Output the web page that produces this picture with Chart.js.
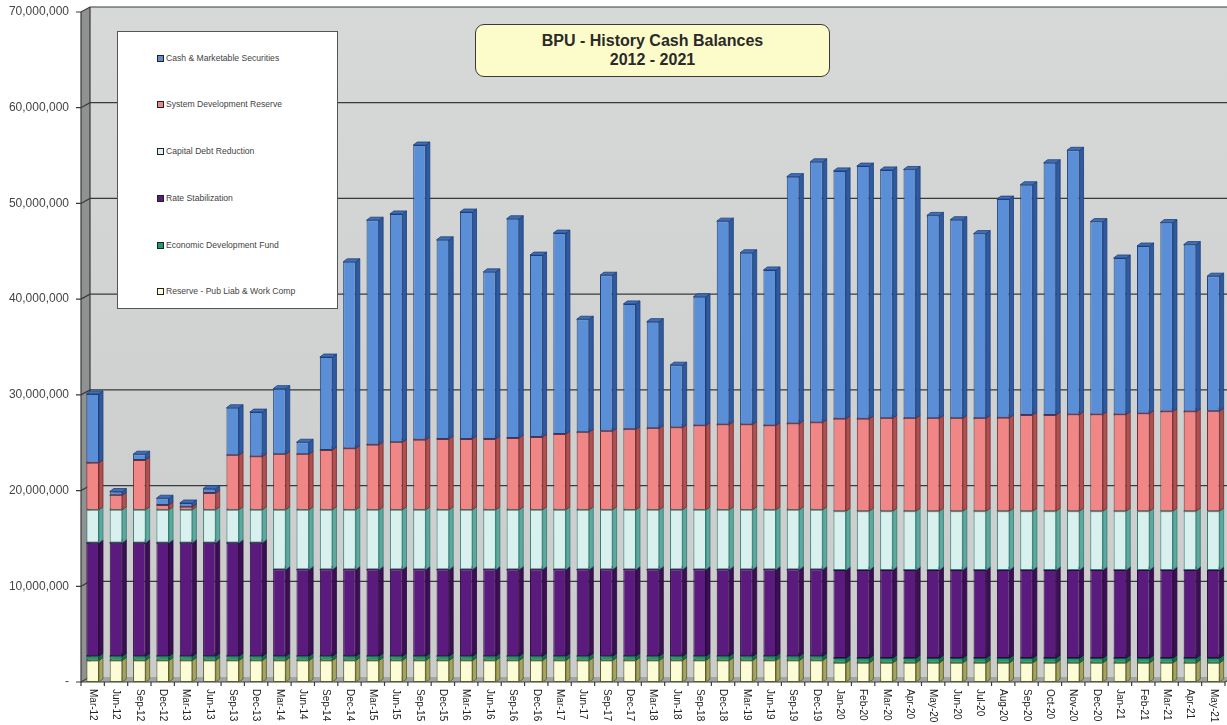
<!DOCTYPE html>
<html><head><meta charset="utf-8">
<script src="https://cdn.jsdelivr.net/npm/chart.js@4/dist/chart.umd.min.js"></script>
<style>
html,body{margin:0;padding:0;background:#fff;}
#wrap{position:relative;width:1227px;height:725px;overflow:hidden;}
#c{position:absolute;left:0;top:0;}
#title{position:absolute;left:475px;top:24px;width:355px;height:53px;background:#fbfcc9;border:1.5px solid #3a3a3a;border-radius:9px;box-sizing:border-box;font:bold 16px "Liberation Sans",Arial,sans-serif;color:#2a2a2a;text-align:center;line-height:19px;padding-top:6px;}
#legend{position:absolute;left:117px;top:31px;width:221px;height:278px;background:#fff;border:1px solid #555;box-sizing:border-box;}
.li{position:absolute;left:39px;font:8.6px "Liberation Sans",Arial,sans-serif;color:#444;white-space:nowrap;line-height:10px;}
.li span{display:inline-block;width:5px;height:5px;border:1px solid #222;margin-right:2px;vertical-align:-1px;}
</style></head>
<body><div id="wrap"><canvas id="c" width="1227" height="725"></canvas>
<div id="title">BPU - History Cash Balances<br>2012 - 2021</div>
<div id="legend"></div></div>
<script>
const categories = ["Mar-12","Jun-12","Sep-12","Dec-12","Mar-13","Jun-13","Sep-13","Dec-13","Mar-14","Jun-14","Sep-14","Dec-14","Mar-15","Jun-15","Sep-15","Dec-15","Mar-16","Jun-16","Sep-16","Dec-16","Mar-17","Jun-17","Sep-17","Dec-17","Mar-18","Jun-18","Sep-18","Dec-18","Mar-19","Jun-19","Sep-19","Dec-19","Jan-20","Feb-20","Mar-20","Apr-20","May-20","Jun-20","Jul-20","Aug-20","Sep-20","Oct-20","Nov-20","Dec-20","Jan-21","Feb-21","Mar-21","Apr-21","May-21"];

const reservePubLiab = [2250000,2250000,2250000,2250000,2250000,2250000,2250000,2250000,2250000,2250000,2250000,2250000,2250000,2250000,2250000,2250000,2250000,2250000,2250000,2250000,2250000,2250000,2250000,2250000,2250000,2250000,2250000,2250000,2250000,2250000,2250000,2250000,2000000,2000000,2000000,2000000,2000000,2000000,2000000,2000000,2000000,2000000,2000000,2000000,2000000,2000000,2000000,2000000,2000000];
const economicDevFund = [450000,450000,450000,450000,450000,450000,450000,450000,450000,450000,450000,450000,450000,450000,450000,450000,450000,450000,450000,450000,450000,450000,450000,450000,450000,450000,450000,450000,450000,450000,450000,450000,500000,500000,500000,500000,500000,500000,500000,500000,500000,500000,500000,500000,500000,500000,500000,500000,500000];
const rateStabilization = [11850000,11850000,11850000,11850000,11850000,11850000,11850000,11850000,9050000,9050000,9050000,9050000,9050000,9050000,9050000,9050000,9050000,9050000,9050000,9050000,9050000,9050000,9050000,9050000,9050000,9050000,9050000,9050000,9050000,9050000,9050000,9050000,9200000,9200000,9200000,9200000,9200000,9200000,9200000,9200000,9200000,9200000,9200000,9200000,9200000,9200000,9200000,9200000,9200000];
const capitalDebtReduction = [3450000,3450000,3450000,3450000,3450000,3450000,3450000,3450000,6250000,6250000,6250000,6250000,6250000,6250000,6250000,6250000,6250000,6250000,6250000,6250000,6250000,6250000,6250000,6250000,6250000,6250000,6250000,6250000,6250000,6250000,6250000,6250000,6150000,6150000,6150000,6150000,6150000,6150000,6150000,6150000,6150000,6150000,6150000,6150000,6150000,6150000,6150000,6150000,6150000];
const systemDevReserve = [4900000,1500000,5200000,500000,300000,1750000,5700000,5550000,5800000,5800000,6250000,6400000,6800000,7050000,7300000,7400000,7400000,7400000,7500000,7600000,7900000,8100000,8200000,8400000,8500000,8600000,8800000,8900000,8900000,8800000,9000000,9100000,9650000,9650000,9700000,9700000,9700000,9700000,9700000,9750000,10050000,10050000,10100000,10100000,10100000,10200000,10400000,10400000,10450000];
const cashMarketable = [7200000,400000,600000,700000,400000,450000,4950000,4650000,6850000,1250000,9700000,19500000,23450000,23850000,30800000,20800000,23700000,17450000,22900000,19000000,21000000,11800000,16300000,13100000,11150000,6500000,13450000,21250000,17950000,16250000,25800000,27250000,25900000,26400000,25950000,26000000,21200000,20750000,19300000,22850000,24050000,26350000,27600000,20150000,16350000,17500000,19750000,17450000,14100000];

const yTickValues = [0,10000000,20000000,30000000,40000000,50000000,60000000,70000000];

const seriesNames = ["Reserve - Pub Liab & Work Comp","Economic Development Fund","Rate Stabilization","Capital Debt Reduction","System Development Reserve","Cash & Marketable Securities"];
const seriesData = [reservePubLiab, economicDevFund, rateStabilization, capitalDebtReduction, systemDevReserve, cashMarketable];
const fronts = ["#fcfcd6","#1f9a70","#5b1a7d","#d8f1ee","#f08686","#5a8fd8"];
const borders = ["#5a5a2a","#0d4f38","#2a0a3a","#2f7f74","#7a2a2a","#1f3f78"];
const sides = ["#a4a45e","#137050","#3b0e55","#5fa89e","#b05050","#2d5aa0"];
const tops = ["#e0e0a8","#1a8460","#4a1468","#a8d8d2","#d46c6c","#3f6fb8"];

const WDX = 9, WDY = 5, BDX = 4, BDY = 3;

const bg3d = {
  id: 'bg3d',
  beforeDatasetsDraw(chart) {
    const {ctx, chartArea: a, scales: {y}} = chart;
    const W = chart.width;
    const y70 = y.getPixelForValue(70000000);
    ctx.save();
    const g = ctx.createLinearGradient(0, y70 - WDY, 0, a.bottom);
    g.addColorStop(0, '#d6d9d8'); g.addColorStop(1, '#c9cccb');
    ctx.fillStyle = g;
    ctx.fillRect(a.left + WDX, y70 - WDY, W - a.left - WDX, a.bottom - WDY - (y70 - WDY));
    ctx.fillStyle = '#8f9291';
    ctx.beginPath(); ctx.moveTo(a.left, y70); ctx.lineTo(a.left + WDX, y70 - WDY); ctx.lineTo(a.left + WDX, a.bottom - WDY); ctx.lineTo(a.left, a.bottom); ctx.closePath(); ctx.fill();
    ctx.fillStyle = '#a3a6a5';
    ctx.beginPath(); ctx.moveTo(a.left, a.bottom); ctx.lineTo(a.left + WDX, a.bottom - WDY); ctx.lineTo(a.right + WDX, a.bottom - WDY); ctx.lineTo(a.right, a.bottom); ctx.closePath(); ctx.fill();
    ctx.strokeStyle = '#3a3a3a'; ctx.lineWidth = 1.2;
    yTickValues.forEach(v => {
      const py = y.getPixelForValue(v);
      ctx.beginPath();
      ctx.moveTo(a.left - 5, py); ctx.lineTo(a.left, py);
      ctx.lineTo(a.left + WDX, py - WDY);
      if (v > 0) ctx.lineTo(W, py - WDY);
      ctx.stroke();
    });
    ctx.beginPath(); ctx.moveTo(a.left, y70); ctx.lineTo(a.left, a.bottom); ctx.lineTo(a.right, a.bottom); ctx.lineTo(a.right + WDX, a.bottom - WDY); ctx.stroke();
    ctx.beginPath(); ctx.moveTo(a.left + WDX, y70 - WDY); ctx.lineTo(a.left + WDX, a.bottom - WDY); ctx.stroke();
    const xs = chart.scales.x;
    const step = xs.getPixelForValue(1) - xs.getPixelForValue(0);
    for (let i = 0; i <= categories.length; i++) {
      const px = xs.getPixelForValue(i) - step / 2;
      ctx.beginPath(); ctx.moveTo(px, a.bottom); ctx.lineTo(px, a.bottom + 4); ctx.stroke();
    }
    chart.data.datasets.forEach((ds, di) => {
      const meta = chart.getDatasetMeta(di);
      meta.data.forEach(el => {
        const p = el.getProps(['x', 'y', 'base', 'width'], true);
        const l = p.x - p.width / 2, r = p.x + p.width / 2;
        const t = Math.min(p.y, p.base), b = Math.max(p.y, p.base);
        ctx.lineWidth = 0.8; ctx.strokeStyle = borders[di];
        ctx.fillStyle = sides[di];
        ctx.beginPath(); ctx.moveTo(r, b); ctx.lineTo(r + BDX, b - BDY); ctx.lineTo(r + BDX, t - BDY); ctx.lineTo(r, t); ctx.closePath(); ctx.fill(); ctx.stroke();
        ctx.fillStyle = tops[di];
        ctx.beginPath(); ctx.moveTo(l, t); ctx.lineTo(l + BDX, t - BDY); ctx.lineTo(r + BDX, t - BDY); ctx.lineTo(r, t); ctx.closePath(); ctx.fill(); ctx.stroke();
      });
    });
    ctx.restore();
  },
  afterDraw(chart) {
    const {ctx, chartArea: a, scales: {x}} = chart;
    ctx.save();
    ctx.font = '10px "Liberation Sans", Arial, sans-serif';
    ctx.fillStyle = '#222';
    ctx.textAlign = 'left'; ctx.textBaseline = 'middle';
    categories.forEach((lab, i) => {
      const px = x.getPixelForValue(i);
      ctx.save(); ctx.translate(px, a.bottom + 7); ctx.rotate(Math.PI / 2);
      ctx.fillText(lab, 0, 0); ctx.restore();
    });
    ctx.restore();
  }
};

const datasets = seriesNames.map((n, i) => ({
  label: n, data: seriesData[i], backgroundColor: fronts[i], borderColor: borders[i],
  borderWidth: 1, borderSkipped: false, barPercentage: 0.54, categoryPercentage: 1.0
}));

const lg = document.getElementById('legend');
const legendY = [21, 67, 114, 161, 208, 254];
seriesNames.slice().reverse().forEach((n, k) => {
  const i = seriesNames.length - 1 - k;
  const d = document.createElement('div');
  d.className = 'li'; d.style.top = legendY[k] + 'px';
  d.innerHTML = '<span style="background:' + fronts[i] + '"></span>' + n.replace(/&/g, '&amp;');
  lg.appendChild(d);
});

new Chart(document.getElementById('c'), {
  type: 'bar',
  data: { labels: categories, datasets },
  plugins: [bg3d],
  options: {
    responsive: false, animation: false,
    layout: { padding: { top: 12, right: 2, left: 0, bottom: 0 } },
    plugins: { legend: { display: false }, title: { display: false }, tooltip: { enabled: false } },
    scales: {
      x: { stacked: true, offset: true, grid: { display: false }, border: { display: false },
           ticks: { display: false },
           afterFit(s) { s.height = 43; s.paddingLeft = 0; s.paddingRight = 0; } },
      y: { stacked: true, min: 0, max: 70000000,
           grid: { display: false, drawTicks: false }, border: { display: false },
           afterBuildTicks(s) { s.ticks = yTickValues.map(v => ({ value: v })); },
           afterFit(s) { s.width = 81; s.paddingTop = 0; s.paddingBottom = 0; },
           ticks: { padding: 12, color: '#444', font: { family: '"Liberation Sans", Arial, sans-serif', size: 12 },
                    callback: v => v === 0 ? '-' : v.toLocaleString('en-US') } }
    }
  }
});
</script></body></html>
